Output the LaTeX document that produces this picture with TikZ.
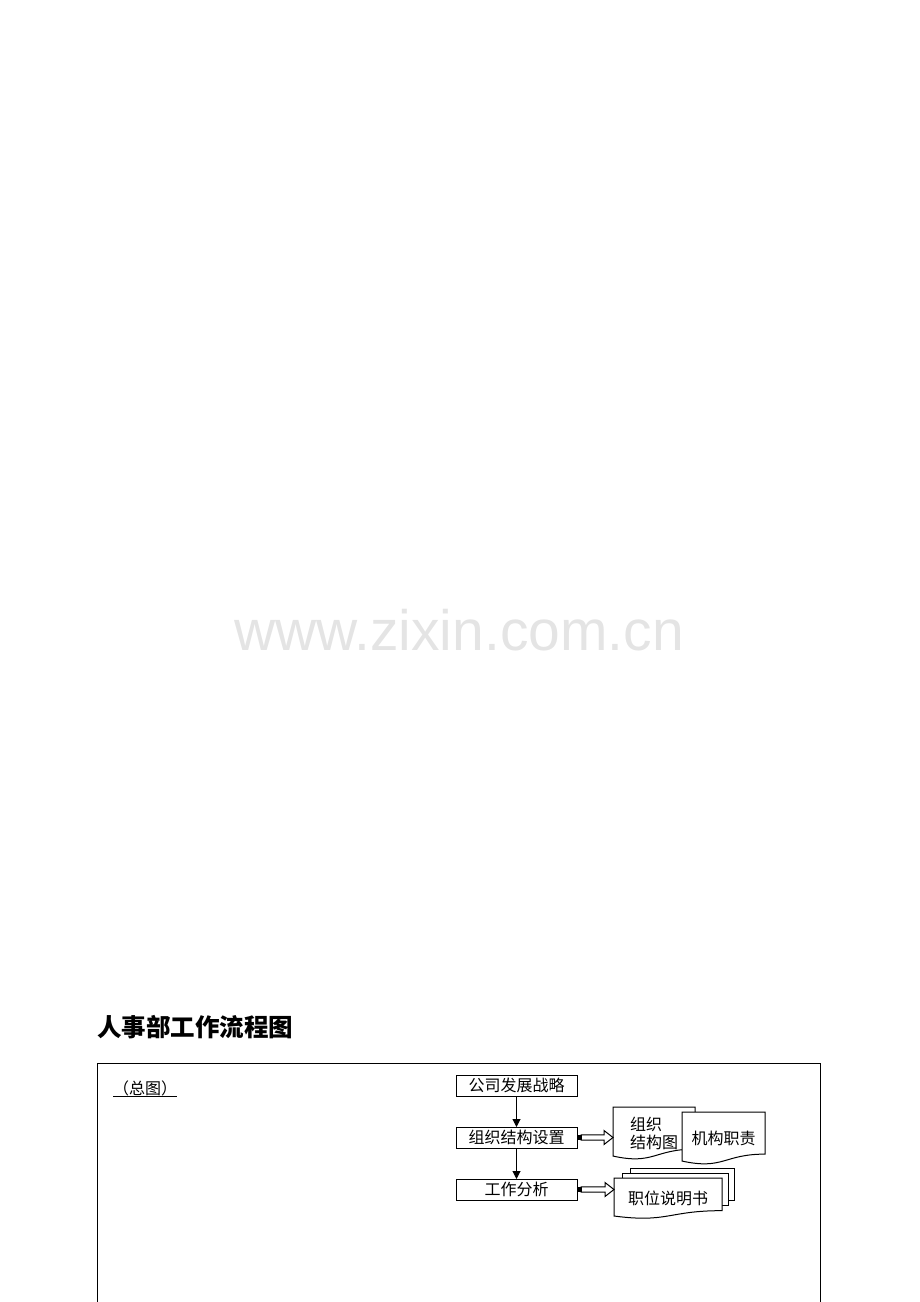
\documentclass[tikz,border=0pt]{standalone}
\usepackage{fontspec}
\setmainfont{Liberation Sans}
\newfontfamily\cjk{Noto Sans CJK SC}
\usetikzlibrary{calc,arrows.meta,positioning,backgrounds}
\definecolor{markgray}{RGB}{228,228,228}
\tikzset{
  stepbox/.style={draw,line width=1pt,minimum width=121pt,minimum height=21pt,inner sep=0pt,outer sep=0pt,font=\cjk\fontsize{16}{18}\selectfont},
  docbox/.style={inner sep=0pt,outer sep=0pt,align=left,font=\cjk\fontsize{16}{18}\selectfont},
  docline/.style={draw,fill=white,line width=1pt},
  flowarrow/.style={line width=1pt,-{Triangle[length=8pt,width=8pt]}},
  hollowarrow/.style={draw,fill=white,line width=1pt,
    to path={($(\tikztostart)+(4,-2.7)$) -- ($(\tikztotarget)+(-9,-2.7)$) -- ($(\tikztotarget)+(-9,-7)$) -- (\tikztotarget) -- ($(\tikztotarget)+(-9,7)$) -- ($(\tikztotarget)+(-9,2.7)$) -- ($(\tikztostart)+(4,2.7)$) -- cycle}}
}
\newcommand\docshape[1]{\draw[docline] (#1.north west) -- (#1.north east) -- ($(#1.north east)!0.802!(#1.south east)$) .. controls ($(#1.north)!0.802!(#1.south)$) and ($(#1.north)!1.107!(#1.south)$) .. ($(#1.north west)!0.934!(#1.south west)$) -- cycle;}

\begin{document}
\begin{tikzpicture}[x=1pt,y=-1pt]
  \useasboundingbox (0,0) rectangle (920,1302);
  \node[font=\fontsize{57}{60}\selectfont,text=markgray,anchor=base] (mark) at (459,650) {www.zixin.com.cn};
  \node[anchor=west,inner sep=0pt,font=\cjk\bfseries\fontsize{24.5}{27}\selectfont] (title) at (97,1027) {人事部工作流程图};
  \draw[line width=1pt] (97,1305) -- (97,1063) -- (820,1063) -- (820,1305);
  \node[anchor=west,inner sep=0pt,font=\cjk\fontsize{16}{18}\selectfont] (overview) at (113,1088) {（总图）};
  \draw[line width=1pt] ($(overview.south west)+(0,1)$) -- ($(overview.south east)+(0,1)$);

  \node[stepbox] (strategy) at (516.5,1085.5) {公司发展战略};
  \node[stepbox,below=31pt of strategy] (structure) {组织结构设置};
  \node[stepbox,below=31pt of structure] (analysis) {工作分析};
  \draw[flowarrow] (strategy) -- (structure);
  \draw[flowarrow] (structure) -- (analysis);

  \node[docbox,anchor=north west,minimum width=82pt,minimum height=52.5pt] (chart) at (613,1107) {组织\\结构图};
  \node[docbox,anchor=north west,minimum width=83pt,minimum height=52.5pt] (duty) at (682,1112) {机构职责};
  \node[docbox,anchor=north west,minimum width=108pt,minimum height=40.7pt] (post) at (614,1178) {职位说明书};
  \begin{scope}[on background layer]
    \docshape{chart}
    \docshape{duty}
    \draw[docline] ($(post.north west)+(16,-5)$) -- ($(post.north west)+(16,-10)$) -- ($(post.north east)+(12,-10)$) -- ($(post.north east)+(12,22)$) -- ($(post.north east)+(6,22)$);
    \draw[docline] ($(post.north west)+(8,0)$) -- ($(post.north west)+(8,-5)$) -- ($(post.north east)+(6,-5)$) -- ($(post.north east)+(6,27)$) -- ($(post.north east)+(0,27)$);
    \docshape{post}
  \end{scope}

  \draw[hollowarrow] (structure.east) to (structure.east -| chart.west);
  \fill (structure.east) ++(0,-2.5) rectangle ++(4.5,5);
  \draw[hollowarrow] (analysis.east) to (analysis.east -| post.west);
  \fill (analysis.east) ++(0,-2.5) rectangle ++(4.5,5);
\end{tikzpicture}
\end{document}
